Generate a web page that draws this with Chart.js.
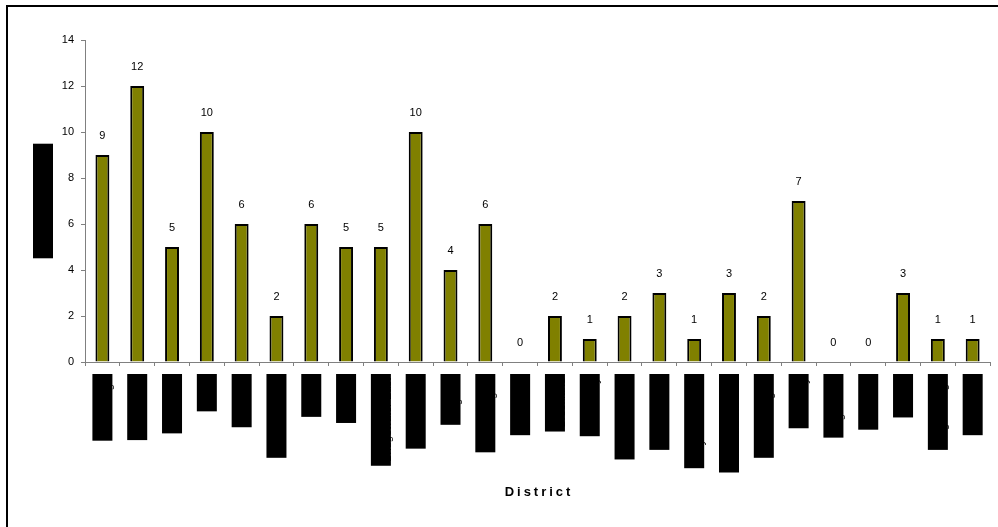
<!DOCTYPE html>
<html>
<head>
<meta charset="utf-8">
<script src="https://cdn.jsdelivr.net/npm/chart.js@4.4.0/dist/chart.umd.min.js"></script>
<style>
  html, body { margin: 0; padding: 0; background: #ffffff; }
  #wrap { width: 998px; height: 527px; position: relative; }
</style>
</head>
<body>
<div id="wrap"><canvas id="chart" width="998" height="527"></canvas></div>
<script>
// District names (x categories)
const districts = [
  'North Ridge', 'Ravensdale', 'Lakeshore', 'Dover', 'Redmoor', 'Riverside North',
  'Seaton', 'Oakdale', 'Bridgewater East', 'East Meadow', 'Kingston', 'Cedar Heights',
  'Clearwater', 'Brookland', 'East Valley', 'Blackwood Vale', 'Harbour Point',
  'Hollybrook Manor', 'Meadowbank East', 'Harrow Heights', 'Westbury', 'Brightwater',
  'Stanmore', 'Marlow', 'Kingsborough', 'Hazelmere'
];

// Number of cases per district
const cases = [9, 12, 5, 10, 6, 2, 6, 5, 5, 10, 4, 6, 0, 2, 1, 2, 3, 1, 3, 2, 7, 0, 0, 3, 1, 1];

// Value axis range
const yMin = 0;
const yMax = 14;
const yStep = 2;

const xTitle = 'District';
const yTitle = 'No. of cases';

const FONT = "'Liberation Sans', Arial, sans-serif";
Chart.defaults.font.family = FONT;
Chart.defaults.color = '#000000';

// White page with the outer frame line
const framePlugin = {
  id: 'frame',
  beforeDraw(chart) {
    const ctx = chart.ctx;
    ctx.save();
    ctx.fillStyle = '#ffffff';
    ctx.fillRect(0, 0, chart.width, chart.height);
    ctx.strokeStyle = '#000000';
    ctx.lineWidth = 2;
    ctx.strokeRect(7, 6, chart.width + 20, chart.height + 20);
    ctx.restore();
  }
};

// Value printed above each bar
const valueLabelPlugin = {
  id: 'valueLabels',
  afterDatasetsDraw(chart) {
    const ctx = chart.ctx;
    const meta = chart.getDatasetMeta(0);
    const values = chart.data.datasets[0].data;
    ctx.save();
    ctx.font = '11px ' + FONT;
    ctx.fillStyle = '#000000';
    ctx.textAlign = 'center';
    ctx.textBaseline = 'middle';
    meta.data.forEach((bar, i) => {
      ctx.fillText(String(values[i]), bar.x, bar.y - 19);
    });
    ctx.restore();
  }
};

// Axis titles: spaced bold "District" below, boxed title at left
const axisTitlePlugin = {
  id: 'axisTitles',
  afterDraw(chart) {
    const ctx = chart.ctx;
    const area = chart.chartArea;
    ctx.save();
    ctx.font = 'bold 13px ' + FONT;
    ctx.letterSpacing = '3px';
    ctx.fillStyle = '#000000';
    ctx.textAlign = 'center';
    ctx.textBaseline = 'middle';
    ctx.fillText(xTitle, (area.left + area.right) / 2 + 1.5, 492);

    const cy = (area.top + area.bottom) / 2;
    const w = ctx.measureText(yTitle).width;
    ctx.translate(43, cy);
    ctx.rotate(-Math.PI / 2);
    ctx.fillRect(-w / 2 - 1, -10, w + 2, 20);
    ctx.fillText(yTitle, 1.5, 0);
    ctx.restore();
  }
};

new Chart(document.getElementById('chart'), {
  type: 'bar',
  data: {
    labels: districts,
    datasets: [{
      data: cases,
      backgroundColor: '#808000',
      borderColor: '#000000',
      borderWidth: 2,
      barPercentage: 0.4,
      categoryPercentage: 1.0
    }]
  },
  options: {
    responsive: false,
    animation: false,
    events: [],
    layout: { padding: { top: 40, right: 7, left: 0, bottom: 0 } },
    plugins: {
      legend: { display: false },
      tooltip: { enabled: false },
      title: { display: false }
    },
    scales: {
      x: {
        grid: {
          display: true,
          offset: true,
          drawOnChartArea: false,
          drawTicks: true,
          tickLength: 4,
          tickColor: '#808080',
          tickWidth: 1
        },
        border: { display: true, color: '#808080', width: 1 },
        ticks: {
          autoSkip: false,
          minRotation: 90,
          maxRotation: 90,
          padding: 12,
          color: '#000000',
          font: { size: 11, family: FONT },
          showLabelBackdrop: true,
          backdropColor: '#000000',
          // label box centred on its category
          backdropPadding: { top: 10, bottom: -3.2, left: 4, right: 4 }
        },
        afterFit(scale) { scale.height = 165; }
      },
      y: {
        min: yMin,
        max: yMax,
        grid: {
          display: true,
          drawOnChartArea: false,
          drawTicks: true,
          tickLength: 4,
          tickColor: '#808080',
          tickWidth: 1
        },
        border: { display: true, color: '#808080', width: 1 },
        ticks: {
          stepSize: yStep,
          padding: 7,
          color: '#000000',
          font: { size: 11, family: FONT }
        },
        afterFit(scale) { scale.width = 85; }
      }
    }
  },
  plugins: [framePlugin, valueLabelPlugin, axisTitlePlugin]
});
</script>
</body>
</html>
